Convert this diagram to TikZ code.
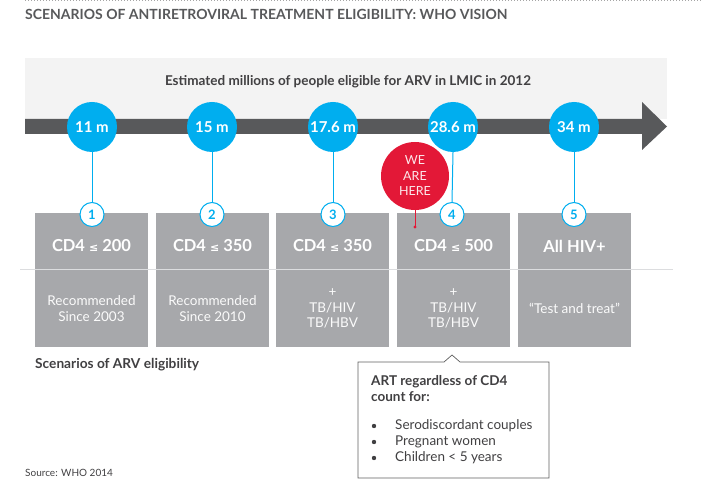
\documentclass[tikz,border=0pt]{standalone}
\usepackage{fontspec}
\setmainfont{Lato}
\newfontfamily\dvs{DejaVu Sans}
\usetikzlibrary{positioning}
\definecolor{cyanc}{HTML}{00AEEF}
\definecolor{redc}{HTML}{E31837}
\definecolor{darkg}{HTML}{58595B}
\definecolor{boxg}{HTML}{A7A8AB}
\definecolor{bandg}{HTML}{F3F3F3}
\definecolor{txtg}{HTML}{414042}
\definecolor{lineg}{HTML}{DCDDDF}
\newcommand{\myleq}{{\dvs\fontsize{11}{11}\selectfont ≤}}
\tikzset{
  big/.style={circle, fill=cyanc, minimum size=50pt, inner sep=0pt, text=white, font=\bfseries\fontsize{15}{15}\selectfont},
  num/.style={circle, draw=cyanc, line width=1pt, fill=white, minimum size=24pt, inner sep=0pt, text=cyanc, font=\bfseries\fontsize{13}{13}\selectfont},
  scen/.style={fill=boxg, minimum width=113pt, minimum height=134pt, inner sep=0pt, anchor=north west},
  head/.style={text=white, font=\bfseries\fontsize{16.5}{16.5}\selectfont},
  sub/.style={text=white!95!boxg, align=center, font=\fontsize{13.5}{15.5}\selectfont},
  link/.style={cyanc, line width=1pt},
  body/.style={text=txtg, font=\fontsize{13.5}{13.5}\selectfont, inner sep=0pt, anchor=west},
}
\begin{document}
\begin{tikzpicture}[x=1pt,y=-1pt]
\useasboundingbox (0,0) rectangle (701,486);
% top dotted line
\draw[gray!70, line width=1pt, dotted] (25,1) -- (701,1);
\node[anchor=west, inner sep=0pt, text=darkg, font=\bfseries\fontsize{14}{14}\selectfont] (title) at (25,14) {SCENARIOS OF ANTIRETROVIRAL TREATMENT ELIGIBILITY: WHO VISION};
% band
\fill[bandg] (25,58) rectangle (667,119);
\node[text=txtg, font=\bfseries\fontsize{13.5}{14}\selectfont] (est) at (348,82) {Estimated millions of people eligible for ARV in LMIC in 2012};
% arrow
\fill[darkg] (25,119) -- (642,119) -- (642,102) -- (667,126.5) -- (642,150) -- (642,134) -- (25,134) -- cycle;
% boxes
\foreach \i/\x in {1/35,2/156,3/276,4/397,5/518}{
  \node[scen] (b\i) at (\x,213) {};
}
\node[head] (h1) at (91.5,246) {CD4 \myleq\ 200};
\node[head] (h2) at (212.5,246) {CD4 \myleq\ 350};
\node[head] (h3) at (332.5,246) {CD4 \myleq\ 350};
\node[head] (h4) at (453.5,246) {CD4 \myleq\ 500};
\node[head] (h5) at (574.5,246) {All HIV+};
\node[sub] (s1) at (91.5,308.5) {Recommended\\Since 2003};
\node[sub] (s2) at (212.5,308.5) {Recommended\\Since 2010};
\node[sub] (s3) at (332.5,308.5) {+\\TB/HIV\\TB/HBV};
\node[sub] (s4) at (453.5,308.5) {+\\TB/HIV\\TB/HBV};
\node[sub] (s5) at (574.5,308.5) {“Test and treat”};
% separator
\draw[lineg, line width=0.8pt] (20,269) -- (673,269);
% circles
\node[big] (c1) at (92,127) {11 m};
\node[big] (c2) at (212,127) {15 m};
\node[big] (c3) at (333,127) {17.6 m};
\node[big] (c4) at (453,127) {28.6 m};
\node[big] (c5) at (574,127) {34 m};
\node[num] (n1) at (92,214.5) {1};
\node[num] (n2) at (212,214.5) {2};
\node[num] (n3) at (333,214.5) {3};
\node[num] (n4) at (452,214.5) {4};
\node[num] (n5) at (574,214.5) {5};
\foreach \i in {1,...,5}{ \draw[link] (c\i.south) -- (n\i.north); }
% we are here
\node[circle, fill=redc, minimum size=68pt, inner sep=0pt, text=white!90!redc, align=center, font=\fontsize{12.5}{15.5}\selectfont] (we) at (415,176) {WE\\ARE\\HERE};
\coordinate (dot) at (415,227);
\draw[redc, line width=1pt] (we.south) -- (dot);
\fill[redc] (dot) circle (1.6pt);
% labels
\node[anchor=west, inner sep=0pt, text=txtg, font=\bfseries\fontsize{13.7}{13.7}\selectfont] (scl) at (35,365) {Scenarios of ARV eligibility};
\node[anchor=west, inner sep=0pt, text=txtg, font=\fontsize{10}{10}\selectfont] (src) at (25,473) {Source: WHO 2014};
% callout
\draw[gray!75!black, line width=0.7pt, fill=white] (358,362) -- (444,362) -- (452,355) -- (460,362) -- (549,362) -- (549,478) -- (358,478) -- cycle;
\node[anchor=north west, text=txtg, align=left, font=\bfseries\fontsize{13.5}{16.5}\selectfont, inner sep=0pt] (art) at (371,375) {ART regardless of CD4\\count for:};
\node[body] (l1) at (395,426) {Serodiscordant couples};
\node[body] (l2) at (395,442) {Pregnant women};
\node[body] (l3) at (395,458) {Children < 5 years};
\foreach \y in {426,442,458}{ \fill[txtg] (374,\y) circle (2.2pt); }
\end{tikzpicture}
\end{document}
